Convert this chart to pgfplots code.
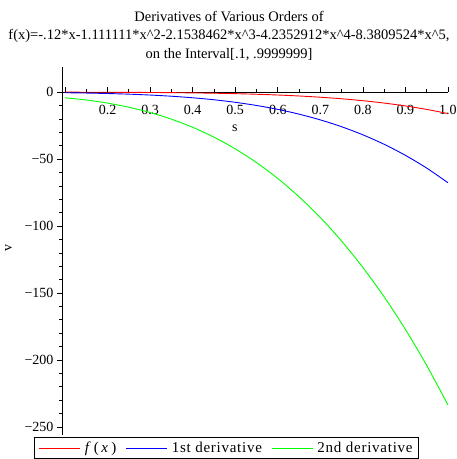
\documentclass[border=0pt]{standalone}
\usepackage{fontspec}
\setmainfont{Liberation Serif}
\newfontfamily\legfont[LetterSpace=5]{Liberation Serif}
\usepackage{pgfplots}
\pgfplotsset{compat=1.18}
\begin{document}
\begin{tikzpicture}[font=\fontsize{14bp}{17bp}\selectfont]
\path[use as bounding box] (-62bp,-24bp) rectangle (395bp,435bp);
\begin{axis}[
  at={(0,0)}, anchor=south west, scale only axis,
  width=386bp, height=368.3bp,
  xmin=0.093, xmax=1.0, ymin=-256, ymax=19,
  axis x line*=middle, axis y line*=left,
  axis line style={black, line width=0.8bp},
  xtick={0.1,0.2,0.3,0.4,0.5,0.6,0.7,0.8,0.9,1.0},
  xticklabels={,0.2,0.3,0.4,0.5,0.6,0.7,0.8,0.9,1.0},
  minor x tick num=1,
  ytick={-250,-200,-150,-100,-50,0},
  yticklabels={−250,−200,−150,−100,−50,0},
  minor y tick num=4,
  xtick align=inside, ytick align=outside,
  major tick length=5bp, minor tick length=3bp,
  tick style={black, line width=0.7bp},
  x tick label style={anchor=base, yshift=-22bp},
  xlabel={s},
  every axis x label/.style={at={(axis description cs:0.448,0.8254)}, anchor=base},
  ylabel={v},
  every axis y label/.style={at={(axis description cs:-0.1386,0.5064)}, anchor=center, rotate=90},
  clip=false,
  legend columns=3,
  legend cell align=left,
  legend image code/.code={\draw[#1] (0bp,0bp) -- (41bp,0bp);},
  legend style={at={(axis description cs:-0.0725,-0.006)}, anchor=north west,
    draw=black, line width=0.8bp, inner xsep=4.5bp, inner ysep=3bp,
    font=\fontsize{15bp}{17bp}\legfont,
    nodes={inner sep=1.5bp},
    /tikz/every odd column/.append style={column sep=2.5bp},
    /tikz/every even column/.append style={column sep=8bp}},
]
\addplot[red, line width=0.9bp, smooth] coordinates {
(0.1,-0.0258)(0.15,-0.0531)(0.2,-0.0951)(0.25,-0.1578)(0.3,-0.2488)(0.35,-0.3780)(0.4,-0.5579)(0.45,-0.8036)(0.5,-1.1336)(0.55,-1.5698)(0.6,-2.1378)(0.65,-2.8674)(0.7,-3.7927)(0.75,-4.9526)(0.8,-6.3909)(0.85,-8.1571)(0.9,-10.3059)(0.95,-12.8981)(1.0,-16.0012)};
\addlegendentry{\textit{f}\,(\,\textit{x}\,)}
\addplot[blue, line width=0.9bp, smooth] coordinates {
(0.1,-0.4280)(0.15,-0.6771)(0.2,-1.0255)(0.25,-1.5078)(0.3,-2.1651)(0.35,-3.0445)(0.4,-4.1997)(0.45,-5.6906)(0.5,-7.5832)(0.55,-9.9500)(0.6,-12.8694)(0.65,-16.4272)(0.7,-20.7139)(0.75,-25.8273)(0.8,-31.8712)(0.85,-38.9555)(0.9,-47.1977)(0.95,-56.7186)(1.0,-67.6497)};
\addlegendentry{1st derivative}
\addplot[green, line width=0.9bp, smooth] coordinates {
(0.1,-4.1904)(0.15,-5.8699)(0.2,-8.1807)(0.25,-11.2485)(0.3,-15.1990)(0.35,-20.1578)(0.4,-26.2508)(0.45,-33.6032)(0.5,-42.3420)(0.55,-52.5938)(0.6,-64.4782)(0.65,-78.1279)(0.7,-93.6652)(0.75,-111.2170)(0.8,-130.9087)(0.85,-152.8659)(0.9,-177.2143)(0.95,-204.0802)(1.0,-233.5878)};
\addlegendentry{2nd derivative}
\end{axis}
\begin{scope}[font=\fontsize{14.5bp}{17bp}\selectfont]
\node[anchor=base] at (167bp,413bp) {Derivatives of Various Orders of};
\node[anchor=base] at (167bp,395bp) {f(x)=-.12*x-1.111111*x\textasciicircum2-2.1538462*x\textasciicircum3-4.2352912*x\textasciicircum4-8.3809524*x\textasciicircum5,};
\node[anchor=base] at (167bp,376bp) {on the Interval[.1, .9999999]};
\end{scope}
\end{tikzpicture}
\end{document}
